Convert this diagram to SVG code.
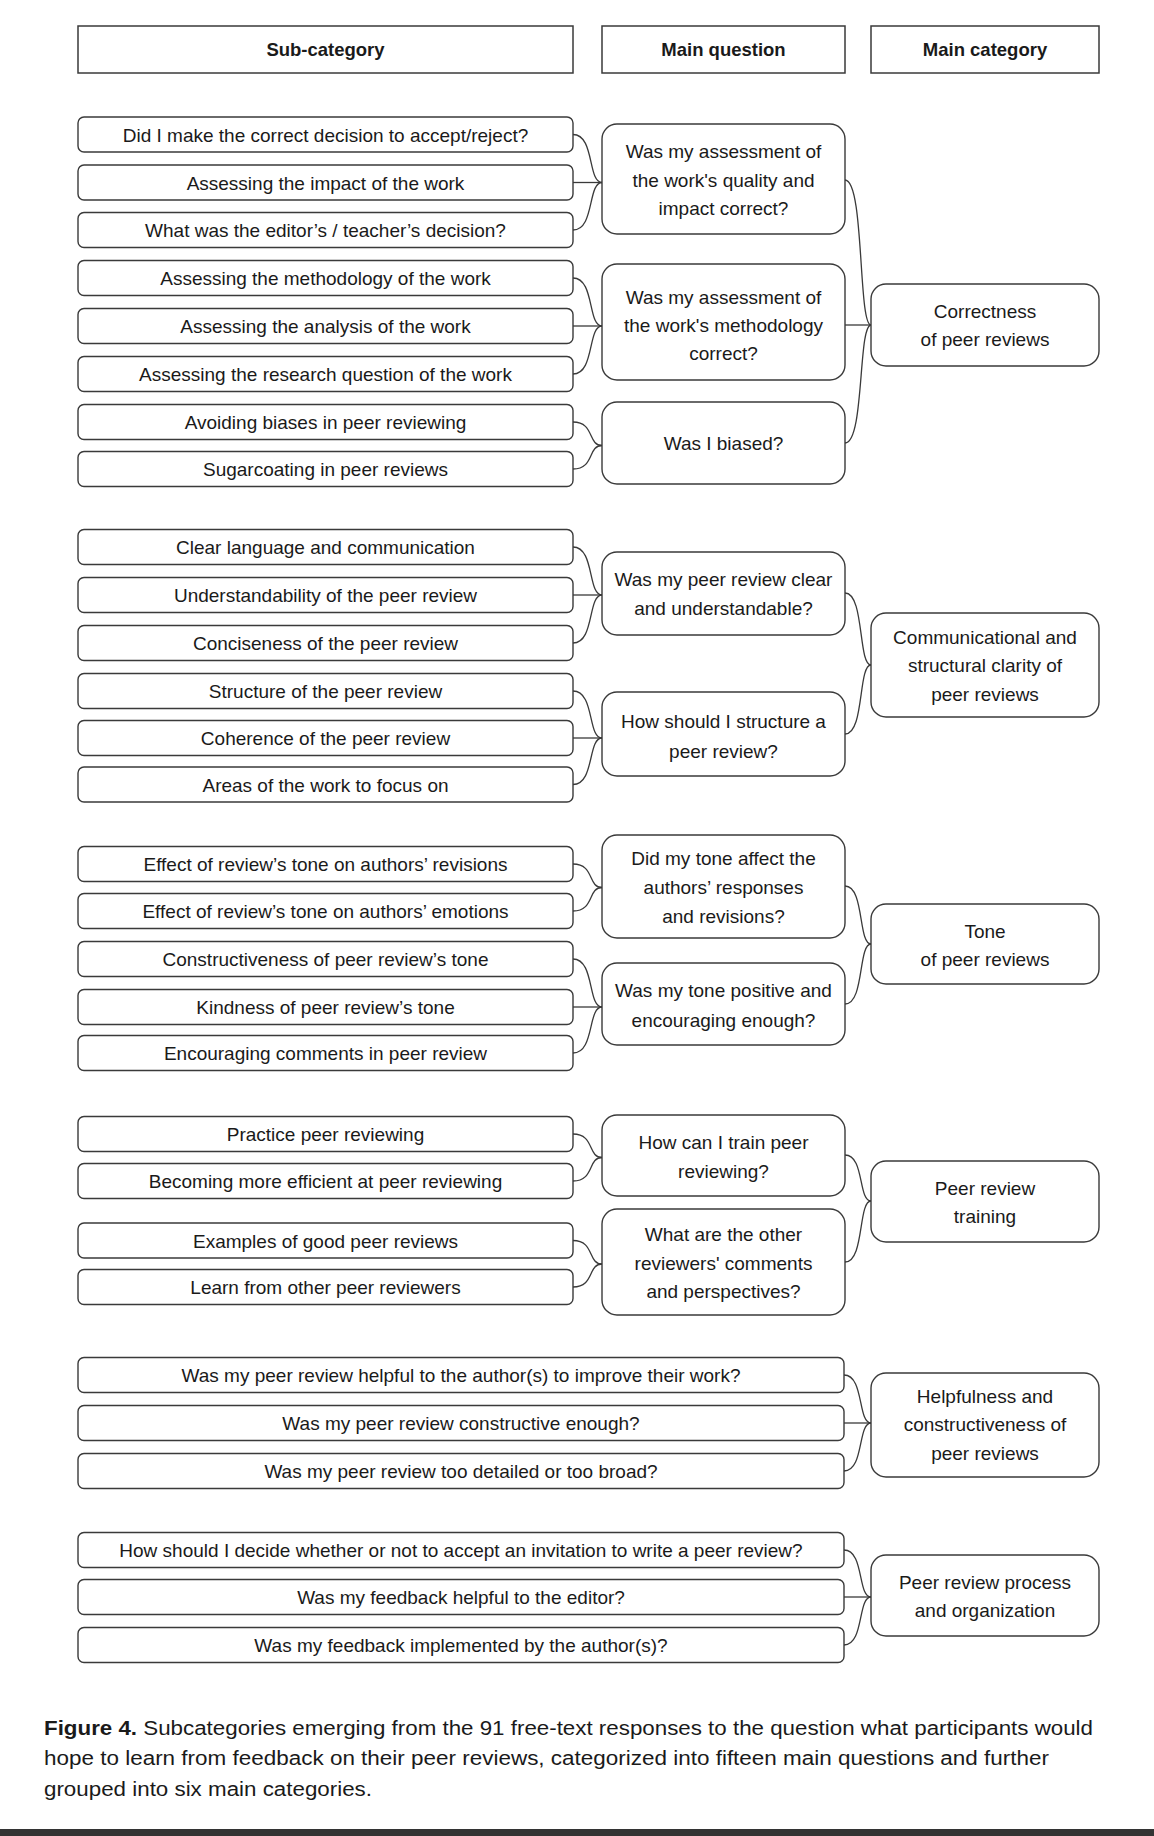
<svg xmlns="http://www.w3.org/2000/svg" width="1154" height="1836" viewBox="0 0 1154 1836">
<style>
.bg{fill:#ffffff}
.hdr{fill:#ffffff;stroke:#3a3a3a;stroke-width:1.5}
.sub{fill:#ffffff;stroke:#3a3a3a;stroke-width:1.4}
.mq{fill:#ffffff;stroke:#3a3a3a;stroke-width:1.4}
.mc{fill:#ffffff;stroke:#3a3a3a;stroke-width:1.4}
text{font-family:"Liberation Sans",Arial,sans-serif;font-size:19px;fill:#1a1a1a;text-anchor:middle}
.ht{font-weight:bold;font-size:18.5px}
.cap{text-anchor:start;font-size:20px}
.conn path{fill:none;stroke:#3a3a3a;stroke-width:1.3}
</style>
<rect class="bg" x="0" y="0" width="1154" height="1836"/>

<g id="header-sub"><rect class="hdr" x="78" y="26" width="495" height="47"/><text class="ht" x="325.5" y="56">Sub-category</text></g>
<g id="header-mq"><rect class="hdr" x="602" y="26" width="243" height="47"/><text class="ht" x="723.5" y="56">Main question</text></g>
<g id="header-mc"><rect class="hdr" x="871" y="26" width="228" height="47"/><text class="ht" x="985" y="56">Main category</text></g>

<!-- Sub-categories group 1 -->
<g id="s1"><rect class="sub" x="78" y="117" width="495" height="35" rx="6"/><text x="325.5" y="141.5">Did I make the correct decision to accept/reject?</text></g>
<g id="s2"><rect class="sub" x="78" y="165" width="495" height="35" rx="6"/><text x="325.5" y="189.5">Assessing the impact of the work</text></g>
<g id="s3"><rect class="sub" x="78" y="212.5" width="495" height="35" rx="6"/><text x="325.5" y="237">What was the editor’s / teacher’s decision?</text></g>
<g id="s4"><rect class="sub" x="78" y="260.5" width="495" height="35" rx="6"/><text x="325.5" y="285">Assessing the methodology of the work</text></g>
<g id="s5"><rect class="sub" x="78" y="308.5" width="495" height="35" rx="6"/><text x="325.5" y="333">Assessing the analysis of the work</text></g>
<g id="s6"><rect class="sub" x="78" y="356.5" width="495" height="35" rx="6"/><text x="325.5" y="381">Assessing the research question of the work</text></g>
<g id="s7"><rect class="sub" x="78" y="404.5" width="495" height="35" rx="6"/><text x="325.5" y="429">Avoiding biases in peer reviewing</text></g>
<g id="s8"><rect class="sub" x="78" y="451.5" width="495" height="35" rx="6"/><text x="325.5" y="476">Sugarcoating in peer reviews</text></g>

<!-- group 2 -->
<g id="s9"><rect class="sub" x="78" y="529.5" width="495" height="35" rx="6"/><text x="325.5" y="554">Clear language and communication</text></g>
<g id="s10"><rect class="sub" x="78" y="577.5" width="495" height="35" rx="6"/><text x="325.5" y="602">Understandability of the peer review</text></g>
<g id="s11"><rect class="sub" x="78" y="625.5" width="495" height="35" rx="6"/><text x="325.5" y="650">Conciseness of the peer review</text></g>
<g id="s12"><rect class="sub" x="78" y="673.5" width="495" height="35" rx="6"/><text x="325.5" y="698">Structure of the peer review</text></g>
<g id="s13"><rect class="sub" x="78" y="720.5" width="495" height="35" rx="6"/><text x="325.5" y="745">Coherence of the peer review</text></g>
<g id="s14"><rect class="sub" x="78" y="767" width="495" height="35" rx="6"/><text x="325.5" y="791.5">Areas of the work to focus on</text></g>

<!-- group 3 -->
<g id="s15"><rect class="sub" x="78" y="846.5" width="495" height="35" rx="6"/><text x="325.5" y="871">Effect of review’s tone on authors’ revisions</text></g>
<g id="s16"><rect class="sub" x="78" y="893.5" width="495" height="35" rx="6"/><text x="325.5" y="918">Effect of review’s tone on authors’ emotions</text></g>
<g id="s17"><rect class="sub" x="78" y="941.5" width="495" height="35" rx="6"/><text x="325.5" y="966">Constructiveness of peer review’s tone</text></g>
<g id="s18"><rect class="sub" x="78" y="989.5" width="495" height="35" rx="6"/><text x="325.5" y="1014">Kindness of peer review’s tone</text></g>
<g id="s19"><rect class="sub" x="78" y="1035.5" width="495" height="35" rx="6"/><text x="325.5" y="1060">Encouraging comments in peer review</text></g>

<!-- group 4 -->
<g id="s20"><rect class="sub" x="78" y="1116.5" width="495" height="35" rx="6"/><text x="325.5" y="1141">Practice peer reviewing</text></g>
<g id="s21"><rect class="sub" x="78" y="1163.5" width="495" height="35" rx="6"/><text x="325.5" y="1188">Becoming more efficient at peer reviewing</text></g>
<g id="s22"><rect class="sub" x="78" y="1223" width="495" height="35" rx="6"/><text x="325.5" y="1247.5">Examples of good peer reviews</text></g>
<g id="s23"><rect class="sub" x="78" y="1269.5" width="495" height="35" rx="6"/><text x="325.5" y="1294">Learn from other peer reviewers</text></g>

<!-- group 5 -->
<g id="s24"><rect class="sub" x="78" y="1357.5" width="766" height="35" rx="6"/><text x="461" y="1382">Was my peer review helpful to the author(s) to improve their work?</text></g>
<g id="s25"><rect class="sub" x="78" y="1405.5" width="766" height="35" rx="6"/><text x="461" y="1430">Was my peer review constructive enough?</text></g>
<g id="s26"><rect class="sub" x="78" y="1453.5" width="766" height="35" rx="6"/><text x="461" y="1478">Was my peer review too detailed or too broad?</text></g>

<!-- group 6 -->
<g id="s27"><rect class="sub" x="78" y="1532.5" width="766" height="35" rx="6"/><text x="461" y="1557">How should I decide whether or not to accept an invitation to write a peer review?</text></g>
<g id="s28"><rect class="sub" x="78" y="1579.5" width="766" height="35" rx="6"/><text x="461" y="1604">Was my feedback helpful to the editor?</text></g>
<g id="s29"><rect class="sub" x="78" y="1627.5" width="766" height="35" rx="6"/><text x="461" y="1652">Was my feedback implemented by the author(s)?</text></g>

<!-- Main questions -->
<g id="q1"><rect class="mq" x="602" y="124" width="243" height="110" rx="15"/><text x="723.5" y="158">Was my assessment of</text><text x="723.5" y="187">the work's quality and</text><text x="723.5" y="215">impact correct?</text></g>
<g id="q2"><rect class="mq" x="602" y="264" width="243" height="116" rx="15"/><text x="723.5" y="304">Was my assessment of</text><text x="723.5" y="332">the work's methodology</text><text x="723.5" y="360">correct?</text></g>
<g id="q3"><rect class="mq" x="602" y="402" width="243" height="82" rx="15"/><text x="723.5" y="450">Was I biased?</text></g>
<g id="q4"><rect class="mq" x="602" y="552" width="243" height="83" rx="15"/><text x="723.5" y="586">Was my peer review clear</text><text x="723.5" y="615">and understandable?</text></g>
<g id="q5"><rect class="mq" x="602" y="692" width="243" height="84" rx="15"/><text x="723.5" y="728">How should I structure a</text><text x="723.5" y="758">peer review?</text></g>
<g id="q6"><rect class="mq" x="602" y="835" width="243" height="103" rx="15"/><text x="723.5" y="865">Did my tone affect the</text><text x="723.5" y="894">authors’ responses</text><text x="723.5" y="922.5">and revisions?</text></g>
<g id="q7"><rect class="mq" x="602" y="963" width="243" height="82" rx="15"/><text x="723.5" y="997">Was my tone positive and</text><text x="723.5" y="1026.5">encouraging enough?</text></g>
<g id="q8"><rect class="mq" x="602" y="1115" width="243" height="81" rx="15"/><text x="723.5" y="1149">How can I train peer</text><text x="723.5" y="1177.5">reviewing?</text></g>
<g id="q9"><rect class="mq" x="602" y="1209" width="243" height="106" rx="15"/><text x="723.5" y="1240.5">What are the other</text><text x="723.5" y="1269.5">reviewers' comments</text><text x="723.5" y="1298">and perspectives?</text></g>

<!-- Main categories -->
<g id="c1"><rect class="mc" x="871" y="284" width="228" height="82" rx="15"/><text x="985" y="318">Correctness</text><text x="985" y="346">of peer reviews</text></g>
<g id="c2"><rect class="mc" x="871" y="613" width="228" height="104" rx="15"/><text x="985" y="644">Communicational and</text><text x="985" y="672">structural clarity of</text><text x="985" y="701">peer reviews</text></g>
<g id="c3"><rect class="mc" x="871" y="904" width="228" height="80" rx="15"/><text x="985" y="938">Tone</text><text x="985" y="966">of peer reviews</text></g>
<g id="c4"><rect class="mc" x="871" y="1161" width="228" height="81" rx="15"/><text x="985" y="1195">Peer review</text><text x="985" y="1223">training</text></g>
<g id="c5"><rect class="mc" x="871" y="1373" width="228" height="104" rx="15"/><text x="985" y="1403">Helpfulness and</text><text x="985" y="1431">constructiveness of</text><text x="985" y="1460">peer reviews</text></g>
<g id="c6"><rect class="mc" x="871" y="1555" width="228" height="81" rx="15"/><text x="985" y="1589">Peer review process</text><text x="985" y="1617">and organization</text></g>

<g id="connectors" class="conn">
<!-- sub -> q1 -->
<path d="M573,134.5 C594.75,134.5 587.5,182.5 602,182.5"/>
<path d="M573,182.5 H602"/>
<path d="M573,230 C594.75,230 587.5,182.5 602,182.5"/>
<!-- sub -> q2 -->
<path d="M573,278 C594.75,278 587.5,326 602,326"/>
<path d="M573,326 H602"/>
<path d="M573,374 C594.75,374 587.5,326 602,326"/>
<!-- sub -> q3 -->
<path d="M573,422 C594.75,422 587.5,445.5 602,445.5"/>
<path d="M573,469 C594.75,469 587.5,445.5 602,445.5"/>
<!-- q -> c1 -->
<path d="M845,180 C864.5,180 858,325 871,325"/>
<path d="M845,325 H871"/>
<path d="M845,443 C864.5,443 858,325 871,325"/>
<!-- sub -> q4 -->
<path d="M573,547 C594.75,547 587.5,595 602,595"/>
<path d="M573,595 H602"/>
<path d="M573,643 C594.75,643 587.5,595 602,595"/>
<!-- sub -> q5 -->
<path d="M573,691 C594.75,691 587.5,738 602,738"/>
<path d="M573,738 H602"/>
<path d="M573,784.5 C594.75,784.5 587.5,738 602,738"/>
<!-- q -> c2 -->
<path d="M845,593 C864.5,593 858,665 871,665"/>
<path d="M845,734 C864.5,734 858,665 871,665"/>
<!-- sub -> q6 -->
<path d="M573,864 C594.75,864 587.5,887.5 602,887.5"/>
<path d="M573,911 C594.75,911 587.5,887.5 602,887.5"/>
<!-- sub -> q7 -->
<path d="M573,959 C594.75,959 587.5,1007 602,1007"/>
<path d="M573,1007 H602"/>
<path d="M573,1053 C594.75,1053 587.5,1007 602,1007"/>
<!-- q -> c3 -->
<path d="M845,886 C864.5,886 858,944 871,944"/>
<path d="M845,1004 C864.5,1004 858,944 871,944"/>
<!-- sub -> q8 -->
<path d="M573,1134 C594.75,1134 587.5,1157.5 602,1157.5"/>
<path d="M573,1181 C594.75,1181 587.5,1157.5 602,1157.5"/>
<!-- sub -> q9 -->
<path d="M573,1240.5 C594.75,1240.5 587.5,1264 602,1264"/>
<path d="M573,1287 C594.75,1287 587.5,1264 602,1264"/>
<!-- q -> c4 -->
<path d="M845,1155 C864.5,1155 858,1201 871,1201"/>
<path d="M845,1262 C864.5,1262 858,1201 871,1201"/>
<!-- sub -> c5 -->
<path d="M844,1375 C864.25,1375 857.5,1423 871,1423"/>
<path d="M844,1423 H871"/>
<path d="M844,1471 C864.25,1471 857.5,1423 871,1423"/>
<!-- sub -> c6 -->
<path d="M844,1550 C864.25,1550 857.5,1597 871,1597"/>
<path d="M844,1597 H871"/>
<path d="M844,1645 C864.25,1645 857.5,1597 871,1597"/>
</g>

<g id="caption">
<text class="cap" x="44" y="1735" textLength="1049" lengthAdjust="spacingAndGlyphs"><tspan font-weight="bold">Figure 4.</tspan> Subcategories emerging from the 91 free-text responses to the question what participants would</text>
<text class="cap" x="44" y="1765" textLength="1005" lengthAdjust="spacingAndGlyphs">hope to learn from feedback on their peer reviews, categorized into fifteen main questions and further</text>
<text class="cap" x="44" y="1796" textLength="328" lengthAdjust="spacingAndGlyphs">grouped into six main categories.</text>
</g>
<rect x="0" y="1829" width="1154" height="7" fill="#333333"/>
</svg>
